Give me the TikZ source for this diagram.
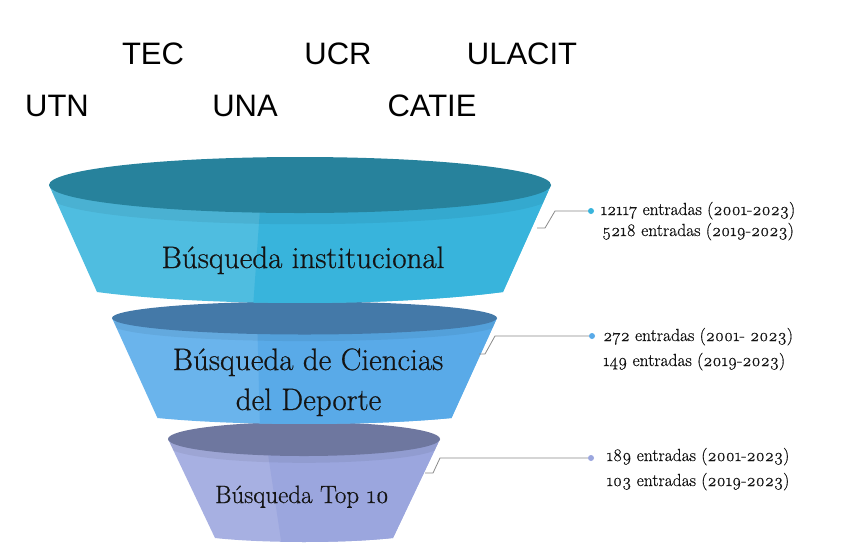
\documentclass[tikz,border=0pt]{standalone}
\usepackage{fontspec}
\setmainfont{Latin Modern Roman}[Numbers=OldStyle, FakeBold=0.6]
\newfontfamily\arialf{Liberation Sans}
\definecolor{fatop}{HTML}{27829C}
\definecolor{faleft}{HTML}{4FBDE0}
\definecolor{faright}{HTML}{38B4DC}
\definecolor{fbtop}{HTML}{4479A8}
\definecolor{fbleft}{HTML}{6AB4EC}
\definecolor{fbright}{HTML}{59AAE8}
\definecolor{fctop}{HTML}{6E779F}
\definecolor{fcleft}{HTML}{A7B0E2}
\definecolor{fcright}{HTML}{9BA6DE}
\definecolor{linegrey}{HTML}{8A8A8A}
\definecolor{txt}{HTML}{141414}
% #1 cx, #2 cy, #3 rx, #4 ry, #5 bottom y, #6 bottom half width, #7 sag, #8 split top x, #9 split bottom x
\newcommand\myfunnel[9]{%
  \begin{scope}
    \clip (#1-#3,#2) -- (#1-#6,#5) .. controls (#1-#6*0.45,#5+#7*1.33) and (#1+#6*0.45,#5+#7*1.33) .. (#1+#6,#5) -- (#1+#3,#2) -- cycle;
    \fill[fleft] (#1-#3-5,#2-#4-5) rectangle (#1+#3+5,#5+#7+5);
    \fill[fright] (#8,#2-5) -- (#9,#5+#7+5) -- (#1+#3+5,#5+#7+5) -- (#1+#3+5,#2-5) -- cycle;
    \fill[black,opacity=0.06] (#1,#2+#4*0.4) ellipse [x radius=#3, y radius=#4];
  \end{scope}
  \fill[ftop] (#1,#2) ellipse [x radius=#3, y radius=#4];
}
\tikzset{
  toplabel/.style={font=\arialf\fontsize{31}{34}\selectfont, text=black, anchor=base, inner sep=0pt},
  funnellabel/.style={font=\fontsize{31}{34}\selectfont, text=txt, anchor=base, inner sep=0pt},
  smalllabel/.style={font=\fontsize{25}{28}\selectfont, text=txt, anchor=base, inner sep=0pt},
  countlabel/.style={font=\fontsize{17.5}{20}\selectfont, text=txt, inner sep=0pt},
  connector/.style={draw=linegrey, line width=0.8pt},
  dotmark/.style={circle, inner sep=0pt, minimum size=6pt},
}
\begin{document}
\begin{tikzpicture}[x=1pt,y=-1pt]
\useasboundingbox (0,0) rectangle (851,558);
\fill[white] (0,0) rectangle (851,558);

% institution names
\node[toplabel] (tec) at (153,64) {TEC};
\node[toplabel] (ucr) at (338,64) {UCR};
\node[toplabel] (ulacit) at (522,64) {ULACIT};
\node[toplabel] (utn) at (57,116) {UTN};
\node[toplabel] (una) at (245,116) {UNA};
\node[toplabel] (catie) at (432,116) {CATIE};

% funnels (bottom first)
\begin{scope}[ftop/.style={fill=fctop}, fleft/.style={fill=fcleft}, fright/.style={fill=fcright}]
\myfunnel{304}{439}{136}{17}{538}{89}{4}{265}{282}
\end{scope}
\begin{scope}[ftop/.style={fill=fbtop}, fleft/.style={fill=fbleft}, fright/.style={fill=fbright}]
\myfunnel{304.5}{318}{192.5}{16.5}{418}{147}{6}{257}{260}
\end{scope}
\begin{scope}[ftop/.style={fill=fatop}, fleft/.style={fill=faleft}, fright/.style={fill=faright}]
\myfunnel{300}{185}{251}{28}{292}{203}{11}{262}{253}
\end{scope}

% funnel labels
\node[funnellabel] (f1) at (303,268) {Búsqueda institucional};
\node[funnellabel] (f2a) at (308,370) {Búsqueda de Ciencias};
\node[funnellabel] (f2b) at (308.5,410) {del Deporte};
\node[smalllabel] (f3) at (302,503) {Búsqueda Top 10};

% connectors
\coordinate (s1) at (537,228);
\coordinate (s2) at (479,354);
\coordinate (s3) at (425,473);
\node[dotmark, fill=faright] (d1) at (591,211) {};
\node[dotmark, fill=fbright] (d2) at (592,336) {};
\node[dotmark, fill=fcright] (d3) at (591,458) {};
\draw[connector] (s1) -- ++(8,0) -- ++(10,-17) -- (d1.west);
\draw[connector] (s2) -- ++(6,0) -- ++(10,-18) -- (d2.west);
\draw[connector] (s3) -- ++(8,0) -- ++(7,-15) -- (d3.west);

% counts
\node[countlabel, anchor=base] (c1a) at (698,215) {12117 entradas (2001-2023)};
\node[countlabel, anchor=base] (c1b) at (698,236) {5218 entradas (2019-2023)};
\node[countlabel, anchor=base west] (c2a) at (603,341) {272 entradas (2001- 2023)};
\node[countlabel, anchor=base west] (c2b) at (603,366) {149 entradas (2019-2023)};
\node[countlabel, anchor=base] (c3a) at (698,461) {189 entradas (2001-2023)};
\node[countlabel, anchor=base] (c3b) at (698,486) {103 entradas (2019-2023)};
\end{tikzpicture}
\end{document}
